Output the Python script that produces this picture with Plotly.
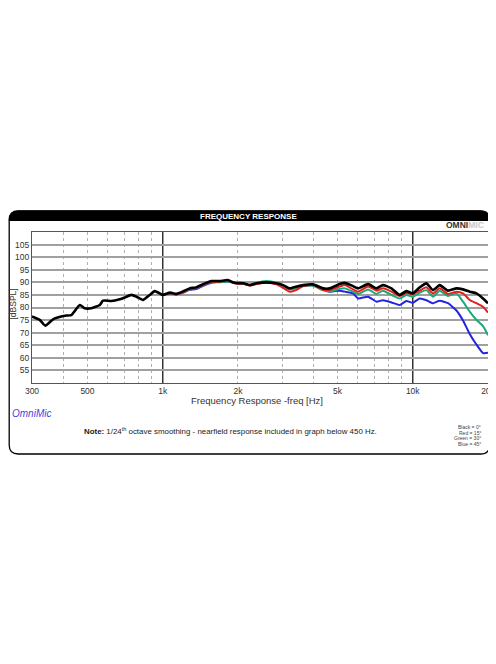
"""OmniMic frequency response card (0/15/30/45 degree off-axis)."""

import plotly.graph_objects as go

# --- data --------------------------------------------------------------------
# nearfield-merged on-axis response below 1 kHz (black only)
freq_low = [300, 322, 339, 364, 393, 412, 431, 466, 487, 518, 560, 577,
            623, 673, 705, 749, 785, 834, 887, 929, 973, 1000]
black_low = [76.4, 75.1, 72.8, 75.3, 76.4, 76.8, 77.0, 81.0, 79.7, 79.7, 81.0, 82.7,
             82.6, 83.3, 84.0, 85.0, 84.3, 83.0, 85.0, 86.5, 85.6, 85.0]

freq_hi = [1000, 1070, 1130, 1200, 1280, 1360, 1450, 1570, 1690, 1820, 1940,
           2100, 2230, 2370, 2600, 2850, 3030, 3220, 3430, 3640, 3990, 4380,
           4660, 5100, 5350, 5770, 6040, 6630, 7160, 7600, 8220, 8870, 9430,
           10000, 10660, 11340, 12050, 12820, 13840, 14960, 15890, 16900,
           17980, 19100, 20000]
black_hi = [85.0, 85.9, 85.4, 86.3, 87.6, 88.0, 89.3, 90.5, 90.5, 90.9, 89.8,
            89.6, 88.9, 89.6, 90.0, 89.6, 88.9, 87.6, 88.3, 88.9, 89.2, 87.6,
            87.6, 89.3, 89.8, 88.5, 87.6, 89.3, 87.6, 88.9, 87.6, 85.0, 86.5,
            85.6, 88.0, 89.6, 86.9, 88.9, 86.7, 87.6, 87.2, 86.3,
            85.6, 83.6, 81.7]
red_hi = [85.0, 85.7, 85.2, 86.0, 87.3, 87.8, 89.0, 90.2, 90.3, 90.6, 89.6,
          89.4, 88.7, 89.3, 89.8, 89.2, 87.8, 86.3, 87.0, 88.5, 89.0, 87.0,
          86.9, 88.3, 88.9, 87.2, 86.3, 88.3, 86.7, 87.6, 86.3, 84.6, 85.8,
          85.4, 86.7, 88.0, 85.6, 87.6, 85.4, 86.3, 85.6, 83.0,
          81.7, 80.3, 78.0]
green_hi = [85.0, 85.7, 85.3, 86.0, 87.2, 87.7, 89.0, 90.0, 90.0, 90.4, 89.6,
            89.5, 88.8, 89.8, 90.5, 89.8, 88.5, 87.2, 87.6, 88.4, 88.6, 86.8,
            86.3, 87.4, 87.6, 86.3, 85.4, 87.2, 85.4, 86.7, 85.0, 83.6, 85.0,
            84.3, 85.9, 86.9, 84.3, 86.7, 84.6, 85.6, 82.3, 78.4,
            75.1, 72.6, 69.0]
blue_hi = [85.0, 85.7, 85.2, 85.8, 87.0, 87.3, 88.6, 89.8, 90.2, 90.4, 89.7,
           89.5, 88.9, 89.6, 90.0, 89.5, 88.6, 87.5, 87.9, 88.6, 88.8, 87.3,
           86.3, 86.7, 86.3, 85.6, 83.6, 84.3, 82.3, 82.9, 82.0, 81.0, 82.6,
           81.9, 83.6, 82.9, 81.7, 82.7, 81.7, 78.8, 74.8, 69.5,
           65.3, 61.9, 62.0]

x_tickvals = [300, 500, 1000, 2000, 5000, 10000, 20000]
x_ticktext = ["300", "500", "1k", "2k", "5k", "10k", "20k"]
x_dotted = [400, 500, 600, 700, 800, 900,
            2000, 3000, 4000, 5000, 6000, 7000, 8000, 9000]
x_solid = [1000, 10000]
y_tickvals = [55, 60, 65, 70, 75, 80, 85, 90, 95, 100, 105]
legend_lines = ["Black = 0°", "Red = 15°", "Green = 30°", "Blue = 45°"]

# --- geometry helpers ---------------------------------------------------------
# the page body adds an 8px offset, so the figure is shrunk to fit the window
# and every position below is given in page pixels, then converted to paper units
OFF = 8
W, H = 488, 648
M_L, M_R, M_T, M_B = 24, 8, 224, 273
PW = W - M_L - M_R
PH = H - M_T - M_B


def px(x):
    return (x - OFF - M_L) / PW


def py(y):
    return (H - M_B - (y - OFF)) / PH


def card_path(left, right, top, bottom, r, bar=None):
    if bar is None:
        pts = [
            f"M{px(left + r)},{py(top)}",
            f"L{px(right - r)},{py(top)}",
            f"Q{px(right)},{py(top)} {px(right)},{py(top + r)}",
            f"L{px(right)},{py(bottom - r)}",
            f"Q{px(right)},{py(bottom)} {px(right - r)},{py(bottom)}",
            f"L{px(left + r)},{py(bottom)}",
            f"Q{px(left)},{py(bottom)} {px(left)},{py(bottom - r)}",
            f"L{px(left)},{py(top + r)}",
            f"Q{px(left)},{py(top)} {px(left + r)},{py(top)}",
        ]
    else:
        pts = [
            f"M{px(left)},{py(bar)}",
            f"L{px(left)},{py(top + r)}",
            f"Q{px(left)},{py(top)} {px(left + r)},{py(top)}",
            f"L{px(right - r)},{py(top)}",
            f"Q{px(right)},{py(top)} {px(right)},{py(top + r)}",
            f"L{px(right)},{py(bar)}",
        ]
    return " ".join(pts) + " Z"


FONT = "Liberation Sans, Arial, sans-serif"

fig = go.Figure()

curves = [
    ("45°", freq_hi, blue_hi, "rgb(35, 35, 225)", 2),
    ("30°", freq_hi, green_hi, "rgb(25, 170, 115)", 2),
    ("15°", freq_hi, red_hi, "rgb(230, 30, 30)", 2),
    ("0°", freq_low + freq_hi[1:], black_low + black_hi[1:], "black", 2.6),
]
for name, xs, ys, color, width in curves:
    fig.add_trace(go.Scatter(
        x=xs, y=ys, mode="lines", name=name,
        line=dict(color=color, width=width, shape="spline", smoothing=0.5),
        hoverinfo="skip",
    ))

# right edge pulled in a little so it stays inside the visible window
CARD = (9.2, 489.6, 211, 454, 9)
shapes = [
    dict(type="path", xref="paper", yref="paper", path=card_path(*CARD),
         line=dict(color="black", width=1.3), layer="above"),
    dict(type="path", xref="paper", yref="paper",
         path=card_path(*CARD, bar=220.5),
         fillcolor="black", line=dict(color="black", width=1), layer="above"),
]
# solid decade lines at 1k and 10k
for xv in x_solid:
    shapes.append(dict(type="line", xref="x", yref="paper", x0=xv, x1=xv,
                       y0=0, y1=1, line=dict(color="#333333", width=1.5),
                       layer="below"))

annotations = [
    dict(text="<b>FREQUENCY RESPONSE</b>", x=px(248), y=py(216),
         font=dict(size=8, color="white", family=FONT)),
    dict(text="<b>OMNI</b><b><span style='color:#c8c8c8'>MIC</span></b>",
         x=px(486), y=py(225), xanchor="right",
         font=dict(size=8.5, color="#333333", family=FONT)),
    dict(text="Frequency Response -freq [Hz]", x=px(257), y=py(400),
         font=dict(size=9.5, color="#333333", family=FONT)),
    dict(text="[dBSPL]", x=px(12.5), y=py(304), textangle=-90,
         font=dict(size=8.5, color="#333333", family=FONT)),
    dict(text="<i>OmniMic</i>", x=px(9.5), y=py(413.5), xanchor="left",
         font=dict(size=10, color="#4444dd", family=FONT)),
    dict(text="<b>Note:</b> 1/24<sup>th</sup> octave smoothing - nearfield "
              "response included in graph below 450 Hz.",
         x=px(82), y=py(431), xanchor="left",
         font=dict(size=7.9, color="#222222", family=FONT)),
]
for i, line in enumerate(legend_lines):
    annotations.append(dict(text=line, x=px(483), y=py(427 + i * 5.6),
                            xanchor="right",
                            font=dict(size=5, color="#444444", family=FONT)))
for a in annotations:
    a.update(xref="paper", yref="paper", showarrow=False,
             yanchor=a.get("yanchor", "middle"),
             xanchor=a.get("xanchor", "center"))

fig.update_layout(
    width=W, height=H,
    margin=dict(l=M_L, r=M_R, t=M_T, b=M_B),
    paper_bgcolor="white", plot_bgcolor="white",
    showlegend=False,
    font=dict(family=FONT, color="#333333"),
    shapes=shapes, annotations=annotations,
    xaxis=dict(
        type="log", range=[2.4771, 4.30103], automargin=False,
        tickmode="array", tickvals=x_tickvals, ticktext=x_ticktext,
        tickfont=dict(size=8.5, color="#333333"),
        showgrid=False, zeroline=False,
        showline=True, linecolor="#555555", linewidth=1.2, mirror=True,
        ticks="", ticklabelstandoff=0,
        minor=dict(tickmode="array", tickvals=x_dotted, showgrid=True,
                   gridcolor="#b0b0b0", griddash="dot", gridwidth=1),
    ),
    yaxis=dict(
        range=[50, 110], automargin=False,
        tickmode="array", tickvals=y_tickvals,
        tickfont=dict(size=8.5, color="#333333"),
        showgrid=True, gridcolor="#a0a0a0", gridwidth=1.5,
        zeroline=False,
        showline=True, linecolor="#555555", linewidth=1.2, mirror=True,
        ticks="", ticklabelstandoff=0,
    ),
)

fig.write_html("out.html")
